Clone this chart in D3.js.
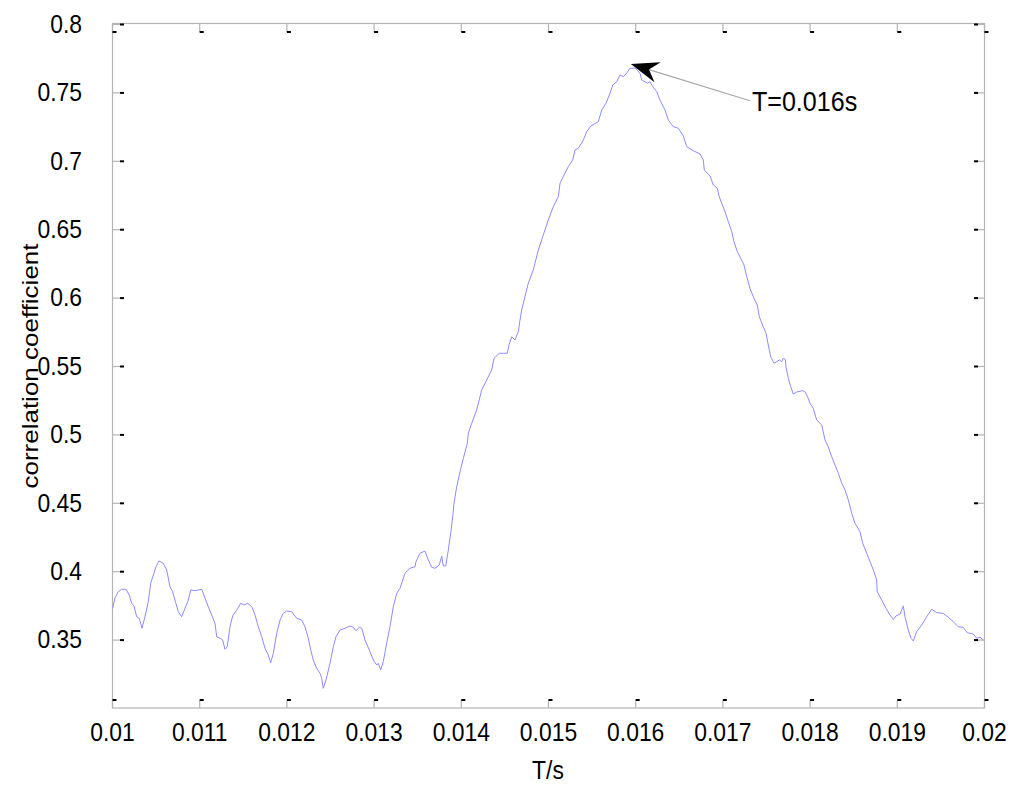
<!DOCTYPE html>
<html>
<head>
<meta charset="utf-8">
<script src="https://cdn.jsdelivr.net/npm/d3@7"></script>
<style>
  body { margin: 0; background: #fff; }
  svg { display: block; }
</style>
</head>
<body>
<div id="chart"></div>
<script>

/****** data ******/
// delay T (s)
var tValues = [
  0.010008, 0.010034, 0.010072, 0.010111, 0.010161, 0.010198, 0.010226, 0.010252, 0.010283, 0.010313,
  0.010344, 0.010378, 0.010416, 0.010444, 0.010474, 0.010505, 0.010539, 0.010588, 0.010627, 0.010665,
  0.010696, 0.010722, 0.010760, 0.010799, 0.010837, 0.010875, 0.010903, 0.010952, 0.011029, 0.011067,
  0.011104, 0.011143, 0.011181, 0.011201, 0.011239, 0.011269, 0.011296, 0.011322, 0.011353, 0.011384,
  0.011430, 0.011476, 0.011514, 0.011556, 0.011602, 0.011640, 0.011678, 0.011717, 0.011755, 0.011792,
  0.011820, 0.011850, 0.011889, 0.011927, 0.011964, 0.012003, 0.012061, 0.012118, 0.012175, 0.012213,
  0.012251, 0.012279, 0.012308, 0.012347, 0.012385, 0.012405, 0.012423, 0.012454, 0.012500, 0.012538,
  0.012569, 0.012615, 0.012672, 0.012729, 0.012767, 0.012798, 0.012836, 0.012864, 0.012901, 0.012951,
  0.012997, 0.013036, 0.013054, 0.013081, 0.013111, 0.013150, 0.013188, 0.013226, 0.013265, 0.013303,
  0.013360, 0.013417, 0.013475, 0.013486, 0.013532, 0.013589, 0.013627, 0.013666, 0.013704, 0.013753,
  0.013781, 0.013799, 0.013827, 0.013857, 0.013884, 0.013907, 0.013922, 0.013953, 0.013991, 0.014029,
  0.014075, 0.014086, 0.014125, 0.014182, 0.014240, 0.014297, 0.014354, 0.014381, 0.014442, 0.014487,
  0.014533, 0.014553, 0.014584, 0.014622, 0.014659, 0.014679, 0.014698, 0.014736, 0.014774, 0.014831,
  0.014889, 0.014946, 0.015003, 0.015061, 0.015118, 0.015138, 0.015175, 0.015233, 0.015283, 0.015310,
  0.015347, 0.015405, 0.015444, 0.015490, 0.015577, 0.015616, 0.015665, 0.015711, 0.015742, 0.015788,
  0.015826, 0.015864, 0.015902, 0.015940, 0.015998, 0.016055, 0.016074, 0.016112, 0.016139, 0.016170,
  0.016201, 0.016247, 0.016284, 0.016342, 0.016380, 0.016437, 0.016494, 0.016552, 0.016591, 0.016666,
  0.016743, 0.016781, 0.016792, 0.016858, 0.016896, 0.016942, 0.016964, 0.016992, 0.017030, 0.017068,
  0.017107, 0.017133, 0.017171, 0.017210, 0.017248, 0.017279, 0.017316, 0.017354, 0.017400, 0.017423,
  0.017469, 0.017500, 0.017526, 0.017554, 0.017592, 0.017623, 0.017652, 0.017680, 0.017698, 0.017721,
  0.017729, 0.017756, 0.017783, 0.017813, 0.017852, 0.017921, 0.017947, 0.017985, 0.018005, 0.018042,
  0.018081, 0.018139, 0.018177, 0.018214, 0.018253, 0.018291, 0.018329, 0.018368, 0.018406, 0.018444,
  0.018483, 0.018521, 0.018578, 0.018609, 0.018655, 0.018693, 0.018739, 0.018769, 0.018776, 0.018827,
  0.018876, 0.018922, 0.018960, 0.018991, 0.019037, 0.019075, 0.019094, 0.019132, 0.019163, 0.019189,
  0.019228, 0.019286, 0.019343, 0.019400, 0.019458, 0.019533, 0.019591, 0.019648, 0.019705, 0.019763,
  0.019808, 0.019877, 0.019916, 0.019954, 0.019992
];
// correlation coefficient
var corrValues = [
  0.3729, 0.3804, 0.3850, 0.3868, 0.3868, 0.3826, 0.3765, 0.3746, 0.3667, 0.3656,
  0.3583, 0.3667, 0.3777, 0.3912, 0.3972, 0.4033, 0.4075, 0.4058, 0.4009, 0.3887,
  0.3850, 0.3789, 0.3704, 0.3667, 0.3729, 0.3789, 0.3863, 0.3857, 0.3868, 0.3802,
  0.3741, 0.3680, 0.3619, 0.3521, 0.3510, 0.3497, 0.3429, 0.3448, 0.3594, 0.3673,
  0.3716, 0.3765, 0.3753, 0.3765, 0.3741, 0.3680, 0.3594, 0.3521, 0.3436, 0.3387,
  0.3331, 0.3400, 0.3546, 0.3643, 0.3692, 0.3709, 0.3704, 0.3656, 0.3643, 0.3594,
  0.3510, 0.3424, 0.3351, 0.3290, 0.3254, 0.3217, 0.3144, 0.3205, 0.3327, 0.3448,
  0.3521, 0.3570, 0.3583, 0.3599, 0.3590, 0.3565, 0.3590, 0.3583, 0.3497, 0.3424,
  0.3351, 0.3314, 0.3327, 0.3278, 0.3339, 0.3473, 0.3594, 0.3741, 0.3838, 0.3875,
  0.3985, 0.4021, 0.4033, 0.4070, 0.4131, 0.4148, 0.4082, 0.4029, 0.4021, 0.4045,
  0.4111, 0.4038, 0.4038, 0.4155, 0.4277, 0.4398, 0.4496, 0.4618, 0.4727, 0.4825,
  0.4935, 0.5008, 0.5081, 0.5178, 0.5325, 0.5398, 0.5471, 0.5556, 0.5593, 0.5593,
  0.5593, 0.5654, 0.5714, 0.5690, 0.5751, 0.5836, 0.5909, 0.6007, 0.6105, 0.6202,
  0.6348, 0.6458, 0.6567, 0.6665, 0.6738, 0.6836, 0.6884, 0.6957, 0.7006, 0.7079,
  0.7091, 0.7152, 0.7213, 0.7254, 0.7286, 0.7371, 0.7420, 0.7493, 0.7554, 0.7578,
  0.7627, 0.7615, 0.7640, 0.7676, 0.7678, 0.7640, 0.7591, 0.7578, 0.7567, 0.7578,
  0.7542, 0.7505, 0.7444, 0.7371, 0.7298, 0.7249, 0.7238, 0.7181, 0.7103, 0.7074,
  0.7050, 0.7006, 0.6933, 0.6889, 0.6823, 0.6799, 0.6738, 0.6689, 0.6628, 0.6555,
  0.6482, 0.6409, 0.6336, 0.6287, 0.6238, 0.6153, 0.6068, 0.6007, 0.5946, 0.5860,
  0.5787, 0.5739, 0.5654, 0.5568, 0.5520, 0.5531, 0.5544, 0.5531, 0.5556, 0.5549,
  0.5495, 0.5410, 0.5349, 0.5295, 0.5310, 0.5320, 0.5312, 0.5264, 0.5227, 0.5191,
  0.5105, 0.5069, 0.4959, 0.4910, 0.4837, 0.4776, 0.4716, 0.4643, 0.4594, 0.4521,
  0.4423, 0.4350, 0.4289, 0.4204, 0.4131, 0.4070, 0.3996, 0.3936, 0.3850, 0.3789,
  0.3729, 0.3680, 0.3648, 0.3673, 0.3687, 0.3746, 0.3667, 0.3570, 0.3510, 0.3490,
  0.3558, 0.3607, 0.3667, 0.3722, 0.3697, 0.3692, 0.3663, 0.3631, 0.3594, 0.3590,
  0.3550, 0.3541, 0.3510, 0.3517, 0.3497
];

var xTicks = [0.01, 0.011, 0.012, 0.013, 0.014, 0.015, 0.016, 0.017, 0.018, 0.019, 0.02];
var xTickLabels = ["0.01", "0.011", "0.012", "0.013", "0.014", "0.015", "0.016", "0.017", "0.018", "0.019", "0.02"];
var yTicks = [0.35, 0.4, 0.45, 0.5, 0.55, 0.6, 0.65, 0.7, 0.75, 0.8];
var yTickLabels = ["0.35", "0.4", "0.45", "0.5", "0.55", "0.6", "0.65", "0.7", "0.75", "0.8"];

// annotation: arrow tip and text anchor (data units)
var noteText = "T=0.016s";
var noteTip = [0.01595, 0.7708];
var noteAt = [0.017339, 0.7366];

/****** layout ******/
var width = 1024, height = 791;
var plotLeft = 112, plotRight = 984, plotTop = 24, plotBottom = 708;
var fontSize = 26;
var squeezeK = 0.88;   // the exported text looks narrower than Arial
var axisColor = "#b4b4b4";
var lineColor = "#8c8cff";

var x = d3.scaleLinear().domain([0.01, 0.02]).range([plotLeft, plotRight]);
var y = d3.scaleLinear().domain([0.3, 0.8]).range([plotBottom, plotTop]);

var svg = d3.select("#chart").append("svg")
    .attr("width", width)
    .attr("height", height)
    .style("font-family", "'Liberation Sans', Arial, sans-serif");

function squeeze(sel) {
    sel.each(function() {
        var w = this.getComputedTextLength();
        this.setAttribute("textLength", w * squeezeK);
        this.setAttribute("lengthAdjust", "spacingAndGlyphs");
    });
}

// box
svg.append("rect")
    .attr("x", plotLeft + 0.5).attr("y", plotTop - 0.5)
    .attr("width", plotRight - plotLeft).attr("height", plotBottom - plotTop + 0.5)
    .attr("fill", "none").attr("stroke", axisColor).attr("stroke-width", 1.2);

/****** axes ******/
function styleAxis(g) {
    g.select(".domain").remove();
    g.selectAll(".tick line").attr("stroke", axisColor).attr("stroke-width", 1.2);
    g.selectAll(".tick text")
        .attr("fill", "#000")
        .style("font-size", fontSize + "px")
        .style("font-family", "'Liberation Sans', Arial, sans-serif");
}

var xAxis = d3.axisBottom(x).tickValues(xTicks).tickSize(-8).tickPadding(15)
    .tickFormat(function(d, i) { return xTickLabels[i]; });
var gx = svg.append("g").attr("transform", "translate(0," + plotBottom + ")").call(xAxis).call(styleAxis);
gx.selectAll(".tick").append("rect")
    .attr("x", 0).attr("y", -9).attr("width", 4).attr("height", 2).attr("fill", "#000");
gx.selectAll(".tick text").call(squeeze);

var gxTop = svg.append("g").attr("transform", "translate(0," + plotTop + ")")
    .call(d3.axisTop(x).tickValues(xTicks).tickSize(-8).tickFormat(""))
    .call(styleAxis);
gxTop.selectAll(".tick").append("rect")
    .attr("x", 0).attr("y", 7).attr("width", 4).attr("height", 2).attr("fill", "#000");

var yAxis = d3.axisLeft(y).tickValues(yTicks).tickSize(-8).tickPadding(30)
    .tickFormat(function(d, i) { return yTickLabels[i]; });
var gy = svg.append("g").attr("transform", "translate(" + plotLeft + ",0)").call(yAxis).call(styleAxis);
gy.selectAll(".tick").append("rect")
    .attr("x", 8).attr("y", -1).attr("width", 4).attr("height", 2).attr("fill", "#000");
gy.selectAll(".tick text").call(squeeze);

var gyRight = svg.append("g").attr("transform", "translate(" + plotRight + ",0)")
    .call(d3.axisRight(y).tickValues(yTicks).tickSize(-8).tickFormat(""))
    .call(styleAxis);
gyRight.selectAll(".tick").append("rect")
    .attr("x", -10).attr("y", -1).attr("width", 4).attr("height", 2).attr("fill", "#000");

// axis titles
svg.append("text")
    .attr("x", (plotLeft + plotRight) / 2).attr("y", 779)
    .attr("text-anchor", "middle")
    .style("font-size", fontSize + "px")
    .text("T/s")
    .call(squeeze);

svg.append("text")
    .attr("transform", "translate(38," + ((plotTop + plotBottom) / 2) + ") rotate(-90) scale(1," + squeezeK + ")")
    .attr("text-anchor", "middle")
    .style("font-size", fontSize + "px")
    .text("correlation coefficient");

/****** curve ******/
var points = tValues.map(function(t, i) { return [t, corrValues[i]]; });
var line = d3.line()
    .x(function(d) { return x(d[0]); })
    .y(function(d) { return y(d[1]); });

svg.append("path")
    .datum(points)
    .attr("d", line)
    .attr("fill", "none")
    .attr("stroke", lineColor)
    .attr("stroke-width", 1);

/****** annotation ******/
var tipX = x(noteTip[0]), tipY = y(noteTip[1]);
var endX = x(noteAt[0]) - 2, endY = y(noteAt[1]) - 10;
var ang = Math.atan2(endY - tipY, endX - tipX);
var headLen = 28, headHalf = 10.5, notch = 19;

svg.append("line")
    .attr("x1", tipX + notch * Math.cos(ang)).attr("y1", tipY + notch * Math.sin(ang))
    .attr("x2", endX).attr("y2", endY)
    .attr("stroke", "#a8a8a8").attr("stroke-width", 1.2);

svg.append("path")
    .attr("transform", "translate(" + tipX + "," + tipY + ") rotate(" + (ang * 180 / Math.PI) + ")")
    .attr("d", "M0,0 L" + headLen + "," + (-headHalf) + " L" + notch + ",0 L" + headLen + "," + headHalf + " Z")
    .attr("fill", "#000");

svg.append("text")
    .attr("x", x(noteAt[0])).attr("y", y(noteAt[1]))
    .style("font-size", "28.5px")
    .text(noteText)
    .call(squeeze);

</script>
</body>
</html>
